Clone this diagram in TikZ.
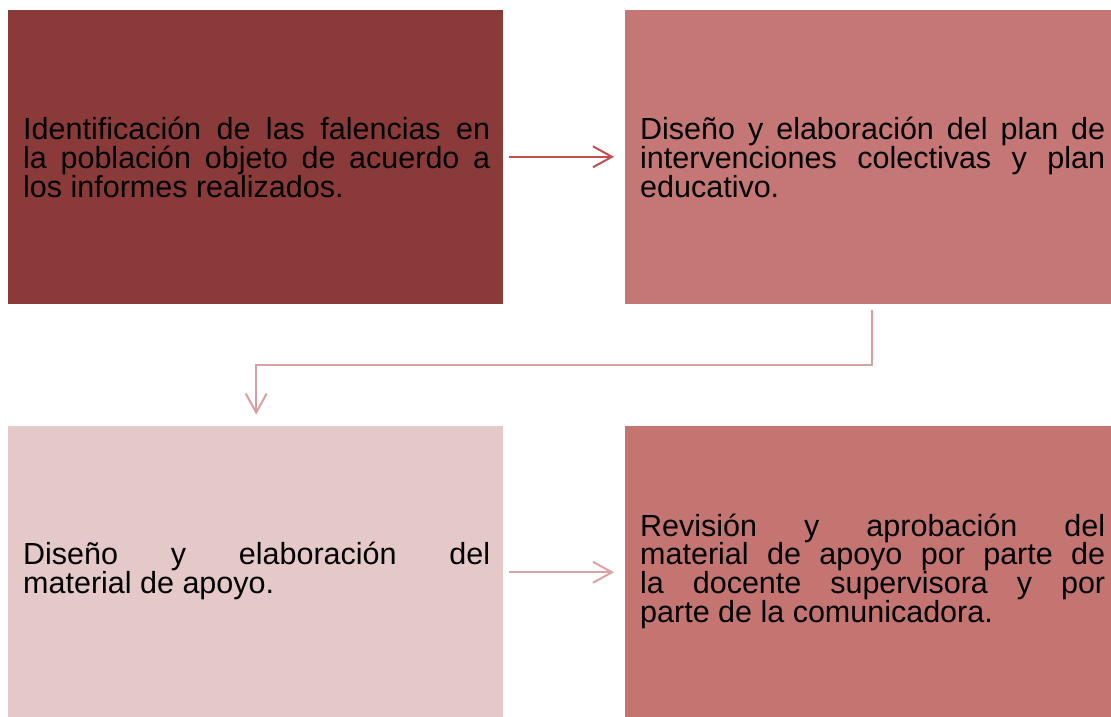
\documentclass[tikz,border=0pt]{standalone}
\usepackage{fontspec}
\setmainfont{Liberation Sans}
\usetikzlibrary{arrows.meta,positioning,calc}
\definecolor{boxA}{HTML}{8B3A3A}
\definecolor{boxB}{HTML}{C57775}
\definecolor{boxC}{HTML}{E5C8C8}
\definecolor{boxD}{HTML}{C47572}
\definecolor{arrA}{HTML}{C0504D}
\definecolor{arrB}{HTML}{D9A0A2}
\definecolor{arrC}{HTML}{DDA2A2}
\tikzset{
  stepbox/.style={rectangle, inner sep=0pt, draw=none, anchor=south west},
  steptext/.style={inner sep=0pt, anchor=west, align=left, text=black,
    font=\fontsize{30.5pt}{28.9pt}\selectfont},
  flowarrow/.style={line width=2pt, -{Straight Barb[length=19pt,width=21pt,line width=2pt]}},
}
\newcommand{\jline}[2]{\makebox[#1][s]{#2}}
\begin{document}
\begin{tikzpicture}[x=1pt,y=1pt]
\useasboundingbox (0,0) rectangle (1111,717);
\node[stepbox, fill=boxA, minimum width=495pt, minimum height=294pt] (A) at (8,413) {};
\node[stepbox, fill=boxB, minimum width=486pt, minimum height=294pt] (B) at (625,413) {};
\node[stepbox, fill=boxC, minimum width=495pt, minimum height=291pt] (C) at (8,0) {};
\node[stepbox, fill=boxD, minimum width=486pt, minimum height=291pt] (D) at (625,0) {};

\node[steptext] (tA) at ([xshift=15pt,yshift=-1pt]A.west) {\jline{467pt}{Identificación de las falencias en}\\\jline{467pt}{la población objeto de acuerdo a}\\los informes realizados.};
\node[steptext] (tB) at ([xshift=15pt,yshift=-1pt]B.west) {\jline{465pt}{Diseño y elaboración del plan de}\\\jline{465pt}{intervenciones colectivas y plan}\\educativo.};
\node[steptext] (tC) at ([xshift=15pt]C.west) {\jline{467pt}{Diseño y elaboración del}\\material de apoyo.};
\node[steptext] (tD) at ([xshift=15pt]D.west) {\jline{465pt}{Revisión y aprobación del}\\\jline{465pt}{material de apoyo por parte de}\\\jline{465pt}{la docente supervisora y por}\\parte de la comunicadora.};

\draw[flowarrow, arrA, shorten <=6pt, shorten >=11pt] (A.east) -- (B.west);
\coordinate (b0) at ([xshift=4pt,yshift=-6pt]B.south);
\coordinate (c0) at ([xshift=0.5pt,yshift=11pt]C.north);
\draw[flowarrow, arrB] (b0) -- ++(0,-55) -| (c0);
\draw[flowarrow, arrC, shorten <=6pt, shorten >=11pt] ([yshift=-1pt]C.east) -- ([yshift=-1pt]D.west);
\end{tikzpicture}
\end{document}
